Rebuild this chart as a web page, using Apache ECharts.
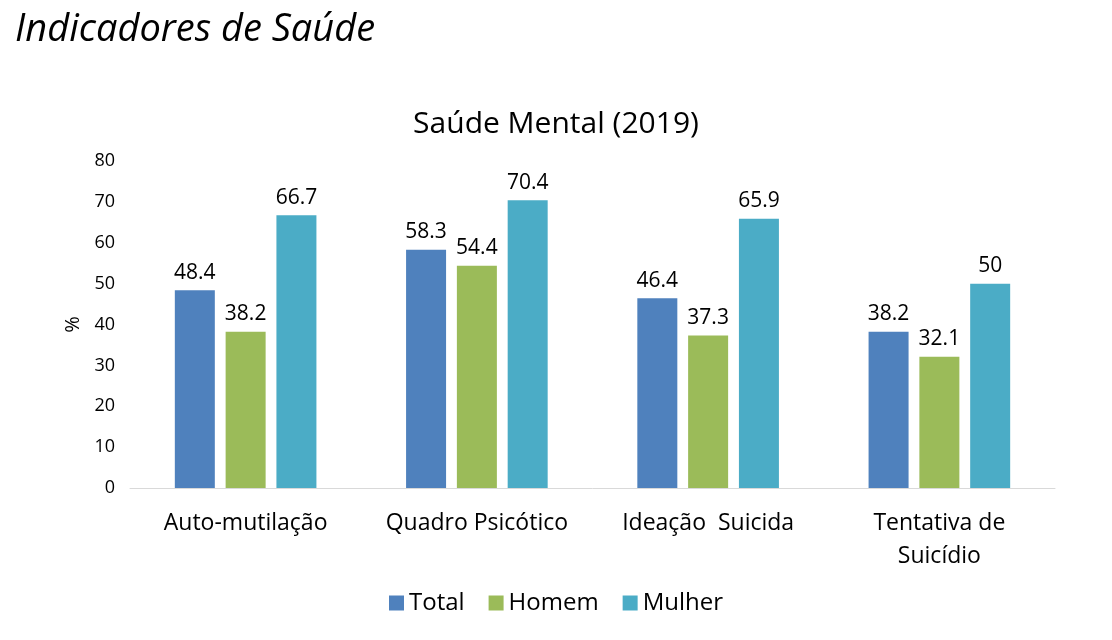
<!DOCTYPE html>
<html>
<head>
<meta charset="utf-8">
<script src="https://cdn.jsdelivr.net/npm/echarts@6/dist/echarts.min.js"></script>
<style>
html,body{margin:0;padding:0;background:#fff;}
#c{width:1112px;height:640px;}
</style>
</head>
<body>
<div id="c"></div>
<script>
const categories = ['Auto-mutilação', 'Quadro Psicótico', 'Ideação  Suicida', 'Tentativa de\nSuicídio'];
const total = [48.4, 58.3, 46.4, 38.2];
const homem = [38.2, 54.4, 37.3, 32.1];
const mulher = [66.7, 70.4, 65.9, 50];
const seriesNames = ['Total', 'Homem', 'Mulher'];
const colors = ['#4F81BD', '#9BBB59', '#4BACC6'];
const yTicks = {min: 0, max: 80, interval: 10};

const font = '"Open Sans", sans-serif';
const chart = echarts.init(document.getElementById('c'));
const mk = (name, data, color) => ({
  name, type: 'bar', data, barWidth: 40, barGap: '27%',
  itemStyle: {color},
  label: {show: true, position: 'top', distance: 7, color: '#000', fontSize: 21, fontFamily: font}
});
chart.setOption({
  animation: false,
  title: [
    {text: 'Indicadores de Saúde', left: 10, top: 6,
     textStyle: {fontFamily: font, fontStyle: 'italic', fontWeight: 'normal', fontSize: 38, color: '#000'}},
    {text: 'Saúde Mental (2019)', left: 'center', top: 104,
     textStyle: {fontFamily: font, fontWeight: 'normal', fontSize: 30, color: '#000'}}
  ],
  legend: {
    bottom: 20, left: 'center', itemWidth: 15, itemHeight: 15, itemGap: 24,
    icon: 'rect',
    textStyle: {fontFamily: font, fontSize: 24, color: '#000'},
    data: seriesNames
  },
  grid: {left: 130, right: 57, top: 161, bottom: 152},
  xAxis: {
    type: 'category', data: categories,
    axisLine: {lineStyle: {color: '#d9d9d9'}},
    axisTick: {show: false},
    axisLabel: {interval: 0, hideOverlap: false, fontFamily: font, fontSize: 23, color: '#000', margin: 19, lineHeight: 33}
  },
  yAxis: {
    type: 'value', min: yTicks.min, max: yTicks.max, interval: yTicks.interval,
    name: '%', nameLocation: 'middle', nameGap: 42, nameRotate: 90,
    nameTextStyle: {fontFamily: font, fontSize: 20, color: '#000'},
    splitLine: {show: false},
    axisLine: {show: false}, axisTick: {show: false},
    axisLabel: {fontFamily: font, fontSize: 18, color: '#000', margin: 15}
  },
  series: [mk(seriesNames[0], total, colors[0]), mk(seriesNames[1], homem, colors[1]), mk(seriesNames[2], mulher, colors[2])]
});
</script>
</body>
</html>
